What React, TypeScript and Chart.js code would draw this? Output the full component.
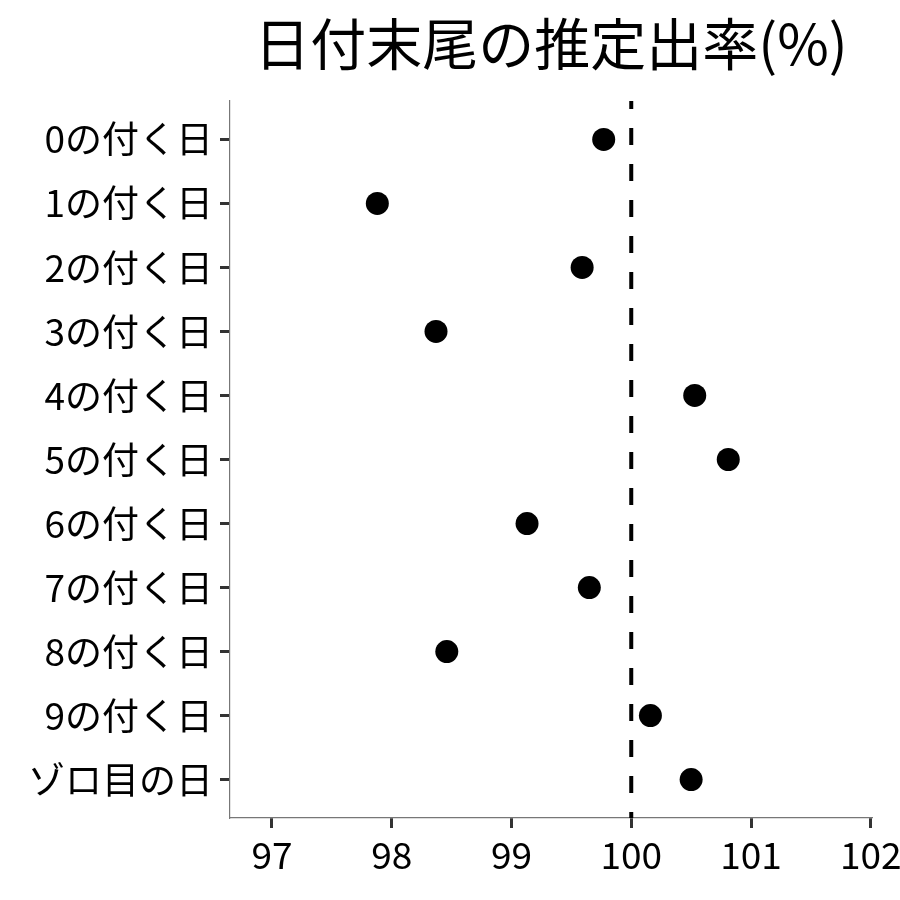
import React, { useEffect, useRef } from "react";
import { Chart, registerables } from "chart.js";

Chart.register(...registerables);

const chartTitle = "日付末尾の推定出率(%)";
const categories = [
  "0の付く日",
  "1の付く日",
  "2の付く日",
  "3の付く日",
  "4の付く日",
  "5の付く日",
  "6の付く日",
  "7の付く日",
  "8の付く日",
  "9の付く日",
  "ゾロ目の日",
];
const rates = [99.77, 97.88, 99.59, 98.37, 100.53, 100.81, 99.13, 99.65, 98.46, 100.16, 100.5];
const xTicks = [97, 98, 99, 100, 101, 102];
const referenceRate = 100;

const FONT = '"Noto Sans CJK JP", "Noto Sans", sans-serif';

export default function App() {
  const canvasRef = useRef<HTMLCanvasElement | null>(null);

  useEffect(() => {
    if (!canvasRef.current) return;

    const refLinePlugin = {
      id: "refLine",
      beforeDatasetsDraw(chart: any) {
        const { ctx, chartArea, scales } = chart;
        const x = scales.x.getPixelForValue(referenceRate);
        ctx.save();
        ctx.strokeStyle = "#000";
        ctx.lineWidth = 4;
        ctx.setLineDash([17, 19]);
        ctx.lineDashOffset = 9;
        ctx.beginPath();
        ctx.moveTo(x, chartArea.top);
        ctx.lineTo(x, chartArea.bottom);
        ctx.stroke();
        ctx.restore();
      },
      afterDraw(chart: any) {
        const { ctx, chartArea } = chart;
        ctx.save();
        ctx.font = `56px ${FONT}`;
        ctx.fillStyle = "#000";
        ctx.textAlign = "center";
        ctx.textBaseline = "middle";
        ctx.fillText(chartTitle, (chartArea.left + chartArea.right) / 2, 44);
        ctx.restore();
      },
    };

    const chart = new Chart(canvasRef.current, {
      type: "scatter",
      data: {
        datasets: [
          {
            data: rates.map((v, i) => ({ x: v, y: i })),
            backgroundColor: "#000",
            borderWidth: 0,
            pointRadius: 11.5,
            pointHoverRadius: 11.5,
          },
        ],
      },
      options: {
        animation: false,
        responsive: true,
        maintainAspectRatio: false,
        layout: { padding: { top: 101, right: 28, bottom: 0, left: 0 } },
        plugins: {
          legend: { display: false },
          tooltip: { enabled: false },
          title: { display: false },
        },
        scales: {
          x: {
            type: "linear",
            min: 96.65,
            max: 102.01,
            afterBuildTicks: (s: any) => {
              s.ticks = xTicks.map((v) => ({ value: v }));
            },
            afterFit: (s: any) => {
              s.height = 82;
              s.paddingLeft = 0;
              s.paddingRight = 0;
            },
            grid: {
              drawOnChartArea: false,
              drawTicks: true,
              tickLength: 10,
              tickColor: "#333",
              tickWidth: 3,
            },
            border: { display: true, color: "#777", width: 1.2 },
            ticks: {
              autoSkip: false,
              maxRotation: 0,
              color: "#000",
              padding: 5,
              font: { family: FONT, size: 37 },
            },
          },
          y: {
            type: "linear",
            reverse: true,
            min: -0.6,
            max: 10.6,
            afterBuildTicks: (s: any) => {
              s.ticks = categories.map((_, i) => ({ value: i }));
            },
            afterFit: (s: any) => {
              s.width = 230;
              s.paddingTop = 0;
              s.paddingBottom = 0;
            },
            grid: {
              drawOnChartArea: false,
              drawTicks: true,
              tickLength: 10,
              tickColor: "#333",
              tickWidth: 3,
            },
            border: { display: true, color: "#777", width: 1.2 },
            ticks: {
              autoSkip: false,
              color: "#000",
              padding: 7,
              font: { family: FONT, size: 37 },
              callback: (v: any) => categories[v as number] ?? "",
            },
          },
        },
      },
      plugins: [refLinePlugin],
    });

    return () => chart.destroy();
  }, []);

  return (
    <div
      style={{
        position: "absolute",
        left: 0,
        top: 0,
        width: 900,
        height: 900,
        background: "#fff",
      }}
    >
      <canvas ref={canvasRef} />
    </div>
  );
}
